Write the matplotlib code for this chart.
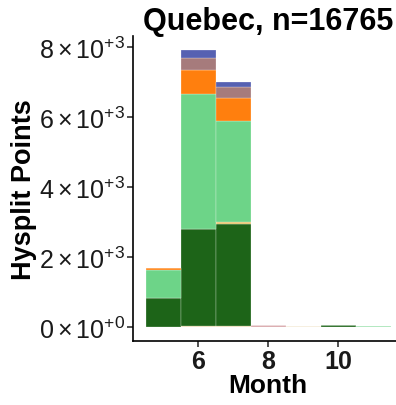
import numpy as np
import matplotlib
matplotlib.use("Agg")
import matplotlib.pyplot as plt
from matplotlib.ticker import FixedLocator, FuncFormatter

plt.rcParams['font.family'] = ['Liberation Sans', 'DejaVu Sans']
plt.rcParams['mathtext.fontset'] = 'custom'
plt.rcParams['mathtext.rm'] = 'Liberation Sans'
plt.rcParams['mathtext.it'] = 'Liberation Sans:italic'
plt.rcParams['mathtext.bf'] = 'Liberation Sans:bold'

# Monthly trajectory-point counts by class (stacked bottom to top)
months = [5, 6, 7, 8, 9, 10, 11]
barren = [0, 30, 30, 0, 25, 0, 0]
wetland = [0, 0, 0, 60, 0, 0, 0]
forest = [830, 2760, 2920, 0, 0, 60, 0]
shrub = [0, 0, 50, 0, 0, 0, 0]
grass = [800, 3850, 2890, 0, 0, 0, 15]
crop = [60, 700, 645, 0, 0, 0, 0]
urban = [0, 350, 310, 0, 0, 0, 0]
water = [0, 230, 150, 0, 0, 0, 0]

series = [barren, wetland, forest, shrub, grass, crop, urban, water]
colors = ['#e9cf9c', '#d8a4a8', '#1d6418', '#e6c36a', '#6dd488',
          '#ff7f0e', '#a67b7c', '#5661b2']

title = "Quebec, n=16765"

fig = plt.figure(figsize=(3.96, 4.06), dpi=100)
ax = fig.add_axes([0.3366, 0.1584, 0.681, 0.751])

bottom = np.zeros(len(months))
for vals, col in zip(series, colors):
    v = np.array(vals, dtype=float)
    ax.bar(months, v, width=1.0, bottom=bottom, color=col,
           edgecolor=(1, 1, 1, 0.6), linewidth=0.3, align='center')
    bottom += v

ymax = bottom.max()
ax.set_xlim(4.5 - 0.05 * 7, 11.5 + 0.05 * 7)
ax.set_ylim(-0.05 * ymax, 1.05 * ymax)

for s in ['top', 'right']:
    ax.spines[s].set_visible(False)
for s in ['left', 'bottom']:
    ax.spines[s].set_linewidth(1.2)
    ax.spines[s].set_color('black')

ax.xaxis.set_major_locator(FixedLocator([6, 8, 10]))
ax.yaxis.set_major_locator(FixedLocator([0, 2000, 4000, 6000, 8000]))

def sci(v, pos):
    if v == 0:
        return r'$0\times10^{+0}$'
    e = int(np.floor(np.log10(abs(v))))
    m = v / 10 ** e
    return r'$%d\times10^{+%d}$' % (round(m), e)

ax.yaxis.set_major_formatter(FuncFormatter(sci))
ax.tick_params(axis='both', direction='out', length=4, width=1.2,
               color='#333333', labelcolor='#1a1a1a')
ax.tick_params(axis='y', labelsize=18, pad=2)
ax.tick_params(axis='x', labelsize=18, pad=2)
for lab in ax.get_xticklabels():
    lab.set_fontweight('bold')

ax.set_xlabel('Month', fontsize=19, fontweight='bold', labelpad=0)
ax.set_ylabel('Hysplit Points', fontsize=19.5, fontweight='bold', labelpad=1)
ax.set_title(title, fontsize=22, fontweight='bold', pad=5)

fig.savefig('out.png', dpi=100)
